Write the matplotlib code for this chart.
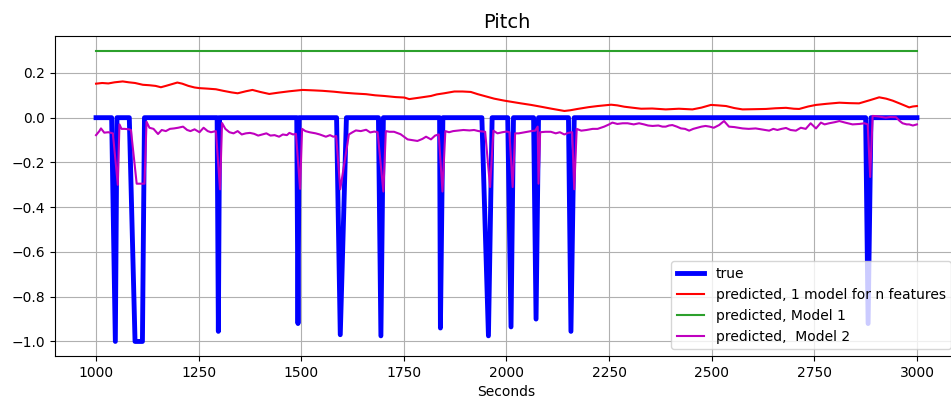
import matplotlib.pyplot as plt
import numpy as np

# true pitch (knots of the step signal)
true_x = [1000, 1038, 1047, 1051, 1081, 1095, 1113, 1118,
          1295, 1298, 1301, 1489, 1492, 1495, 1586, 1595, 1610,
          1688, 1694, 1700, 1837, 1839, 1845, 1940, 1956, 1965,
          2003, 2011, 2017, 2066, 2072, 2078, 2151, 2157, 2165,
          2875, 2881, 2888, 3000]
true_y = [0, 0, -1.0, 0, 0, -1.0, -1.0, 0,
          0, -0.955, 0, 0, -0.92, 0, 0, -0.97, 0,
          0, -0.975, 0, 0, -0.94, 0, 0, -0.975, 0,
          0, -0.935, 0, 0, -0.90, 0, 0, -0.955, 0,
          0, -0.92, 0, 0]

# predicted, 1 model for n features
red_x = [1000, 1015, 1030, 1045, 1065, 1080, 1095, 1114, 1130, 1145, 1158, 1170,
         1185, 1198, 1210, 1225, 1240, 1252, 1270, 1292, 1310, 1330, 1345, 1365,
         1381, 1400, 1422, 1445, 1471, 1503, 1530, 1552, 1580, 1601, 1630, 1658,
         1680, 1702, 1730, 1751, 1763, 1790, 1816, 1830, 1848, 1873, 1893, 1913,
         1930, 1946, 1970, 1995, 2015, 2035, 2060, 2084, 2110, 2141, 2155, 2173,
         2200, 2222, 2255, 2270, 2287, 2305, 2328, 2355, 2388, 2420, 2453, 2475,
         2498, 2515, 2535, 2555, 2575, 2605, 2632, 2655, 2681, 2700, 2713, 2735,
         2754, 2780, 2811, 2835, 2859, 2885, 2908, 2925, 2941, 2960, 2981, 2990, 3000]
red_y = [0.152, 0.155, 0.153, 0.158, 0.162, 0.158, 0.155, 0.147, 0.145, 0.142, 0.136, 0.142,
         0.150, 0.157, 0.152, 0.142, 0.135, 0.132, 0.130, 0.127, 0.120, 0.113, 0.109, 0.118,
         0.124, 0.115, 0.106, 0.112, 0.118, 0.124, 0.122, 0.120, 0.116, 0.112, 0.108, 0.105,
         0.100, 0.097, 0.092, 0.090, 0.083, 0.090, 0.097, 0.104, 0.109, 0.117, 0.117, 0.115,
         0.105, 0.097, 0.085, 0.076, 0.070, 0.064, 0.057, 0.049, 0.040, 0.030, 0.033, 0.039,
         0.047, 0.052, 0.058, 0.055, 0.049, 0.045, 0.040, 0.041, 0.037, 0.040, 0.037, 0.045,
         0.057, 0.055, 0.052, 0.043, 0.037, 0.038, 0.039, 0.042, 0.044, 0.040, 0.039, 0.050,
         0.057, 0.062, 0.067, 0.065, 0.064, 0.078, 0.091, 0.085, 0.076, 0.062, 0.046, 0.050, 0.052]

# predicted, Model 1
green_x = [1000, 3000]
green_y = [0.3, 0.3]

# predicted, Model 2
mag_x = [1000, 1008, 1012, 1020, 1030, 1036, 1041, 1053, 1057, 1062, 1070, 1080, 1085,
         1099, 1118, 1123, 1130, 1140, 1151, 1160, 1170, 1180, 1190, 1200, 1212, 1222,
         1230, 1240, 1252, 1262, 1272, 1280, 1292, 1302, 1307, 1315, 1325, 1335, 1345,
         1355, 1365, 1375, 1385, 1395, 1405, 1415, 1425, 1435, 1446, 1455, 1465, 1471,
         1480, 1487, 1497, 1502, 1510, 1520, 1535, 1545, 1560, 1570, 1578, 1585, 1595,
         1616, 1625, 1633, 1645, 1658, 1668, 1678, 1686, 1700, 1706, 1715, 1726, 1742,
         1750, 1759, 1770, 1783, 1795, 1804, 1816, 1826, 1835, 1844, 1851, 1860, 1870,
         1881, 1895, 1910, 1921, 1932, 1948, 1960, 1968, 1978, 1990, 2000, 2007, 2015,
         2021, 2030, 2045, 2060, 2070, 2076, 2078, 2082, 2095, 2108, 2120, 2130, 2141,
         2150, 2160, 2165, 2171, 2182, 2195, 2210, 2222, 2238, 2250, 2258, 2270, 2283,
         2295, 2310, 2323, 2335, 2345, 2356, 2370, 2380, 2388, 2396, 2404, 2415, 2425,
         2435, 2445, 2455, 2465, 2475, 2485, 2495, 2505, 2518, 2530, 2542, 2555, 2565,
         2575, 2590, 2607, 2620, 2630, 2640, 2650, 2660, 2670, 2681, 2692, 2705, 2717,
         2729, 2741, 2754, 2766, 2775, 2786, 2800, 2811, 2825, 2843, 2860, 2872, 2880,
         2886, 2892, 2908, 2924, 2935, 2949, 2958, 2965, 2975, 2981, 2990, 3000]
mag_y = [-0.078, -0.060, -0.048, -0.067, -0.065, -0.068, -0.070, -0.300, -0.030, -0.050, -0.050, -0.052, -0.055,
         -0.295, -0.295, -0.018, -0.045, -0.050, -0.073, -0.055, -0.060, -0.050, -0.048, -0.045, -0.040, -0.055,
         -0.060, -0.052, -0.065, -0.045, -0.060, -0.065, -0.060, -0.320, -0.024, -0.050, -0.065, -0.070, -0.060,
         -0.075, -0.070, -0.068, -0.072, -0.080, -0.075, -0.070, -0.080, -0.078, -0.085, -0.075, -0.078, -0.068,
         -0.075, -0.072, -0.318, -0.050, -0.060, -0.065, -0.070, -0.075, -0.085, -0.078, -0.085, -0.082, -0.320,
         -0.075, -0.065, -0.057, -0.060, -0.054, -0.066, -0.062, -0.065, -0.330, -0.060, -0.063, -0.063, -0.074,
         -0.085, -0.097, -0.100, -0.104, -0.095, -0.085, -0.097, -0.080, -0.075, -0.330, -0.060, -0.065, -0.060,
         -0.058, -0.055, -0.057, -0.055, -0.060, -0.063, -0.310, -0.058, -0.070, -0.065, -0.062, -0.065, -0.310,
         -0.070, -0.070, -0.065, -0.060, -0.058, -0.040, -0.295, -0.065, -0.063, -0.063, -0.070, -0.065, -0.075,
         -0.068, -0.065, -0.320, -0.050, -0.058, -0.055, -0.050, -0.050, -0.040, -0.030, -0.022, -0.028, -0.025,
         -0.025, -0.030, -0.025, -0.030, -0.035, -0.037, -0.035, -0.040, -0.040, -0.035, -0.033, -0.040, -0.048,
         -0.050, -0.058, -0.050, -0.045, -0.040, -0.037, -0.040, -0.045, -0.033, -0.015, -0.040, -0.042, -0.045,
         -0.048, -0.050, -0.048, -0.052, -0.055, -0.058, -0.050, -0.055, -0.050, -0.046, -0.055, -0.058, -0.045,
         -0.050, -0.025, -0.048, -0.022, -0.030, -0.025, -0.020, -0.015, -0.022, -0.030, -0.028, -0.025, -0.030,
         -0.265, 0.008, 0.005, 0.000, 0.003, 0.002, -0.015, -0.025, -0.030, -0.030, -0.035, -0.030]

fig = plt.figure(figsize=(9.51, 4.03), dpi=100)
ax = fig.add_axes([55/951, 47/403, 903/951, 320/403])

ax.plot(true_x, true_y, 'b', linewidth=3.5, label='true')
ax.plot(red_x, red_y, 'r', linewidth=1.5, label='predicted, 1 model for n features')
ax.plot(green_x, green_y, color='#2ca02c', linewidth=1.5, label='predicted, Model 1')
ax.plot(mag_x, mag_y, 'm', linewidth=1.5, label='predicted,  Model 2')

ax.set_title('Pitch', fontsize=14)
ax.set_xlabel('Seconds')
ax.grid(True)
ax.legend(loc='lower right')

plt.savefig('out.png', dpi=100)
